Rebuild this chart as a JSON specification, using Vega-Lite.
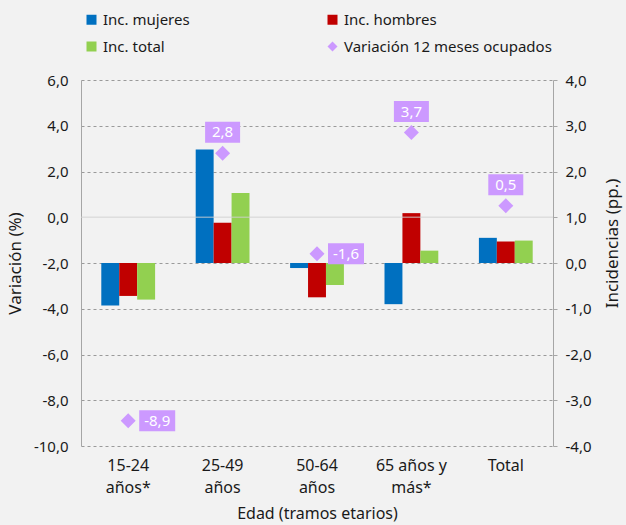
{
  "$schema": "https://vega.github.io/schema/vega-lite/v6.json",
  "width": 472,
  "height": 366,
  "autosize": {"type": "none"},
  "padding": {"left": 81, "top": 80, "right": 73, "bottom": 79},
  "background": "#f2f2f2",
  "config": {
    "view": {"stroke": null},
    "font": "Noto Sans",
    "locale": {"number": {"decimal": ",", "thousands": ".", "grouping": [3], "currency": ["", " €"], "minus": "-"}},
    "axis": {"labelColor": "#1a1a1a", "titleColor": "#1a1a1a", "titleFontWeight": "normal"}
  },
  "datasets": {
    "inc": [
      {"edad": "15-24 años*", "serie": "Inc. mujeres", "valor": -0.93},
      {"edad": "15-24 años*", "serie": "Inc. hombres", "valor": -0.72},
      {"edad": "15-24 años*", "serie": "Inc. total", "valor": -0.80},
      {"edad": "25-49 años", "serie": "Inc. mujeres", "valor": 2.48},
      {"edad": "25-49 años", "serie": "Inc. hombres", "valor": 0.88},
      {"edad": "25-49 años", "serie": "Inc. total", "valor": 1.53},
      {"edad": "50-64 años", "serie": "Inc. mujeres", "valor": -0.11},
      {"edad": "50-64 años", "serie": "Inc. hombres", "valor": -0.75},
      {"edad": "50-64 años", "serie": "Inc. total", "valor": -0.48},
      {"edad": "65 años y más*", "serie": "Inc. mujeres", "valor": -0.90},
      {"edad": "65 años y más*", "serie": "Inc. hombres", "valor": 1.09},
      {"edad": "65 años y más*", "serie": "Inc. total", "valor": 0.27},
      {"edad": "Total", "serie": "Inc. mujeres", "valor": 0.55},
      {"edad": "Total", "serie": "Inc. hombres", "valor": 0.47},
      {"edad": "Total", "serie": "Inc. total", "valor": 0.49}
    ],
    "var": [
      {"edad": "15-24 años*", "serie": "Variación 12 meses ocupados", "valor": -8.9},
      {"edad": "25-49 años", "serie": "Variación 12 meses ocupados", "valor": 2.8},
      {"edad": "50-64 años", "serie": "Variación 12 meses ocupados", "valor": -1.6},
      {"edad": "65 años y más*", "serie": "Variación 12 meses ocupados", "valor": 3.7},
      {"edad": "Total", "serie": "Variación 12 meses ocupados", "valor": 0.5}
    ]
  },
  "layer": [
    {
      "data": {"name": "inc"},
      "mark": {"type": "bar"},
      "encoding": {
        "x": {
          "field": "edad", "type": "nominal",
          "sort": ["15-24 años*", "25-49 años", "50-64 años", "65 años y más*", "Total"],
          "scale": {"paddingInner": 0.43, "paddingOuter": 0.215},
          "title": "Edad (tramos etarios)",
          "axis": {
            "domain": false, "ticks": false, "labelAngle": 0, "labelFontSize": 16, "labelPadding": 11,
            "labelLineHeight": 22, "labelBaseline": "top",
            "titleFontSize": 16, "titlePadding": 10,
            "labelExpr": "datum.label == '15-24 años*' ? ['15-24', 'años*'] : datum.label == '25-49 años' ? ['25-49', 'años'] : datum.label == '50-64 años' ? ['50-64', 'años'] : datum.label == '65 años y más*' ? ['65 años y', 'más*'] : datum.label"
          }
        },
        "xOffset": {"field": "serie", "type": "nominal", "sort": ["Inc. mujeres", "Inc. hombres", "Inc. total"]},
        "y": {
          "field": "valor", "type": "quantitative",
          "scale": {"domain": [-4, 4], "nice": false, "zero": false},
          "title": "Incidencias (pp.)",
          "axis": {
            "orient": "right", "grid": false, "values": [-4, -3, -2, -1, 0, 1, 2, 3, 4], "format": ".1f",
            "domainColor": "#a6a6a6", "tickColor": "#a6a6a6", "tickSize": 4, "labelPadding": 8,
            "labelFontSize": 15, "titleFontSize": 17, "titleAngle": 270, "titleBaseline": "top", "titlePadding": 13,
            "titleY": 163
          }
        },
        "color": {
          "field": "serie", "type": "nominal",
          "scale": {
            "domain": ["Inc. mujeres", "Inc. hombres", "Inc. total", "Variación 12 meses ocupados"],
            "range": ["#0070c0", "#c00000", "#92d050", "#cc99ff"]
          },
          "legend": {
            "orient": "none", "legendX": 3, "legendY": -68, "title": null, "columns": 2, "direction": "horizontal",
            "columnPadding": 135, "rowPadding": 11, "symbolSize": 100, "labelFontSize": 15, "labelLimit": 400,
            "labelColor": "#1a1a1a", "labelOffset": 4, "symbolStrokeWidth": 0
          }
        }
      }
    },
    {
      "layer": [
        {
          "data": {"values": [{}]},
          "mark": {"type": "rule", "color": "#d0d0d0", "opacity": 0.6, "strokeWidth": 1.5},
          "encoding": {"y": {"datum": 0, "type": "quantitative"}}
        },
        {
          "data": {"name": "var"},
          "mark": {"type": "point", "filled": true, "size": 225, "opacity": 1},
          "encoding": {
            "x": {"field": "edad", "type": "nominal", "sort": ["15-24 años*", "25-49 años", "50-64 años", "65 años y más*", "Total"], "title": "Edad (tramos etarios)"},
            "y": {
              "field": "valor", "type": "quantitative",
              "scale": {"domain": [-10, 6], "nice": false, "zero": false},
              "title": "Variación (%)",
              "axis": {
                "orient": "left", "values": [-10, -8, -6, -4, -2, 0, 2, 4, 6], "format": ".1f",
                "domainColor": "#a6a6a6", "ticks": false, "labelPadding": 13,
                "grid": true, "gridColor": "#9a9a9a", "gridDash": [3, 3],
                "gridOpacity": {"condition": {"test": "datum.value === 0", "value": 0}, "value": 1},
                "labelFontSize": 15, "titleFontSize": 17, "titlePadding": 9
              }
            },
            "color": {"field": "serie", "type": "nominal"},
            "shape": {
              "field": "serie", "type": "nominal",
              "scale": {
                "domain": ["Inc. mujeres", "Inc. hombres", "Inc. total", "Variación 12 meses ocupados"],
                "range": ["square", "square", "square", "diamond"]
              }
            }
          }
        },
        {
          "data": {"name": "var"},
          "transform": [{"filter": {"field": "edad", "oneOf": ["25-49 años", "65 años y más*", "Total"]}}],
          "mark": {"type": "point", "filled": true, "opacity": 1, "color": "#cc99ff", "size": 400, "shape": "M-1.75,-3.15H1.75V-1.05H-1.75Z"},
          "encoding": {
            "x": {"field": "edad", "type": "nominal", "sort": ["15-24 años*", "25-49 años", "50-64 años", "65 años y más*", "Total"], "title": "Edad (tramos etarios)"},
            "y": {"field": "valor", "type": "quantitative"}
          }
        },
        {
          "data": {"name": "var"},
          "transform": [{"filter": {"field": "edad", "oneOf": ["15-24 años*", "50-64 años"]}}],
          "mark": {"type": "point", "filled": true, "opacity": 1, "color": "#cc99ff", "size": 400, "shape": "M1.1,-1.05H4.7V1.05H1.1Z"},
          "encoding": {
            "x": {"field": "edad", "type": "nominal", "sort": ["15-24 años*", "25-49 años", "50-64 años", "65 años y más*", "Total"], "title": "Edad (tramos etarios)"},
            "y": {"field": "valor", "type": "quantitative"}
          }
        },
        {
          "data": {"name": "var"},
          "transform": [{"filter": {"field": "edad", "oneOf": ["25-49 años", "65 años y más*", "Total"]}}],
          "mark": {"type": "text", "color": "#ffffff", "fontSize": 15, "dy": -21, "align": "center", "baseline": "middle"},
          "encoding": {
            "x": {"field": "edad", "type": "nominal", "sort": ["15-24 años*", "25-49 años", "50-64 años", "65 años y más*", "Total"], "title": "Edad (tramos etarios)"},
            "y": {"field": "valor", "type": "quantitative"},
            "text": {"field": "valor", "type": "quantitative", "format": ".1f"}
          }
        },
        {
          "data": {"name": "var"},
          "transform": [{"filter": {"field": "edad", "oneOf": ["15-24 años*", "50-64 años"]}}],
          "mark": {"type": "text", "color": "#ffffff", "fontSize": 15, "dx": 29, "align": "center", "baseline": "middle"},
          "encoding": {
            "x": {"field": "edad", "type": "nominal", "sort": ["15-24 años*", "25-49 años", "50-64 años", "65 años y más*", "Total"], "title": "Edad (tramos etarios)"},
            "y": {"field": "valor", "type": "quantitative"},
            "text": {"field": "valor", "type": "quantitative", "format": ".1f"}
          }
        }
      ]
    }
  ],
  "resolve": {"scale": {"y": "independent"}}
}
